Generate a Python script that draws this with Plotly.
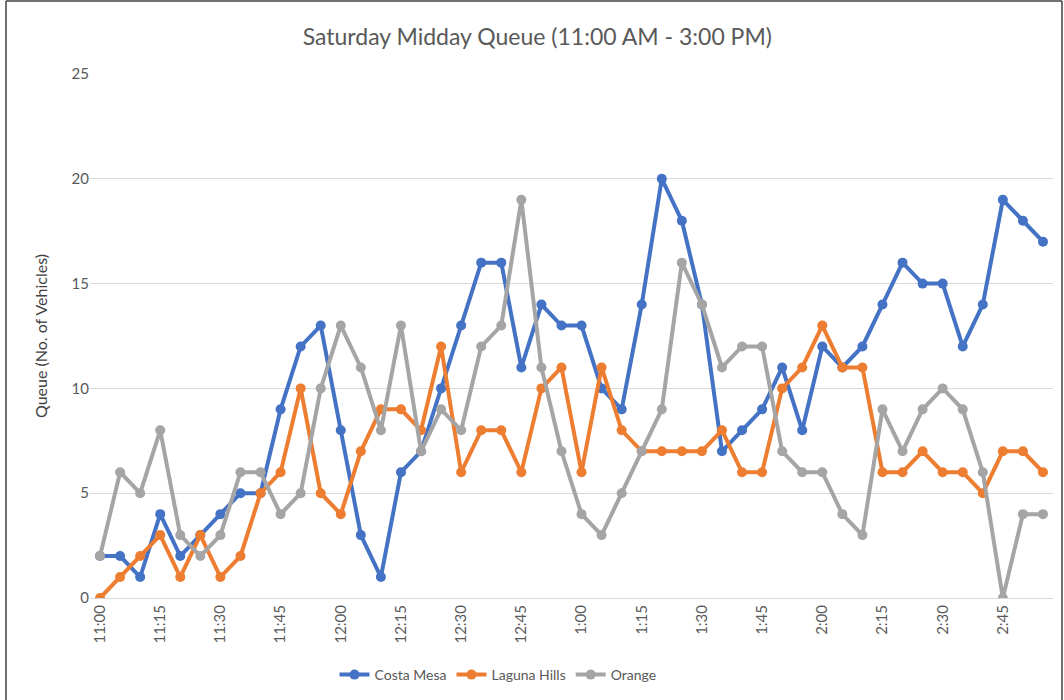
import plotly.graph_objects as go

times = []
for h, label in [(11, "11"), (12, "12"), (1, "1"), (2, "2")]:
    for m in range(0, 60, 5):
        times.append(f"{label}:{m:02d}")

costa_mesa = [2, 2, 1, 4, 2, 3, 4, 5, 5, 9, 12, 13,
              8, 3, 1, 6, 7, 10, 13, 16, 16, 11, 14, 13,
              13, 10, 9, 14, 20, 18, 14, 7, 8, 9, 11, 8,
              12, 11, 12, 14, 16, 15, 15, 12, 14, 19, 18, 17]
laguna_hills = [0, 1, 2, 3, 1, 3, 1, 2, 5, 6, 10, 5,
                4, 7, 9, 9, 8, 12, 6, 8, 8, 6, 10, 11,
                6, 11, 8, 7, 7, 7, 7, 8, 6, 6, 10, 11,
                13, 11, 11, 6, 6, 7, 6, 6, 5, 7, 7, 6]
orange = [2, 6, 5, 8, 3, 2, 3, 6, 6, 4, 5, 10,
          13, 11, 8, 13, 7, 9, 8, 12, 13, 19, 11, 7,
          4, 3, 5, 7, 9, 16, 14, 11, 12, 12, 7, 6,
          6, 4, 3, 9, 7, 9, 10, 9, 6, 0, 4, 4]

series = [("Costa Mesa", costa_mesa, "#4472C4"),
          ("Laguna Hills", laguna_hills, "#ED7D31"),
          ("Orange", orange, "#A5A5A5")]

FONT = "Lato"
fig = go.Figure()
for name, vals, color in series:
    fig.add_trace(go.Scatter(
        x=times, y=vals, name=name, mode="lines+markers",
        line=dict(color=color, width=4),
        marker=dict(color=color, size=10),
    ))

L, R, T, B = 90, 11, 74, 102
W, H = 1064, 700
pw, ph = W - L - R, H - T - B

def px2x(px):
    return (px - L) / pw

def py2y(py):
    return (H - B - py) / ph

fig.update_layout(
    width=W, height=H,
    margin=dict(l=L, r=R, t=T, b=B, autoexpand=False),
    paper_bgcolor="white", plot_bgcolor="white",
    font=dict(family=FONT, color="#595959"),
    title=dict(text="Saturday Midday Queue (11:00 AM - 3:00 PM)",
               x=0.505, xanchor="center", y=1 - 37 / H, yanchor="middle",
               font=dict(size=23, color="#595959", family=FONT)),
    showlegend=True,
    legend=dict(orientation="h", x=px2x(498), xanchor="center",
                y=py2y(675), yanchor="middle", font=dict(size=14, color="#595959"),
                tracegroupgap=0),
    xaxis=dict(type="category", categoryorder="array", categoryarray=times,
               range=[-0.5, len(times) - 0.5], automargin=False,
               tickmode="array", tickvals=times[::3], ticktext=times[::3],
               tickangle=-90, tickfont=dict(size=15, color="#595959"),
               showgrid=False, showline=True, linecolor="#d9d9d9", linewidth=1,
               ticks="", zeroline=False),
    yaxis=dict(range=[0, 25], tickvals=[0, 5, 10, 15, 20, 25], automargin=False,
               showgrid=True, gridcolor="#d9d9d9", gridwidth=1,
               zeroline=False, showline=False, ticks="",
               tickfont=dict(size=15, color="#595959"),
               title=dict(text="Queue (No. of Vehicles)", standoff=19,
                          font=dict(size=16, color="#404040"))),
)

# outer frame (left, top, right)
border = dict(color="#404040", width=1.5)
fig.add_shape(type="line", xref="paper", yref="paper",
              x0=px2x(6), x1=px2x(6), y0=py2y(1), y1=py2y(700), line=border)
fig.add_shape(type="line", xref="paper", yref="paper",
              x0=px2x(6), x1=px2x(1062), y0=py2y(1), y1=py2y(1), line=border)
fig.add_shape(type="line", xref="paper", yref="paper",
              x0=px2x(1062), x1=px2x(1062), y0=py2y(1), y1=py2y(700), line=border)

fig.write_html("out.html", config={"displayModeBar": False},
               post_script="document.body.style.margin='0';document.body.style.overflow='hidden';")
